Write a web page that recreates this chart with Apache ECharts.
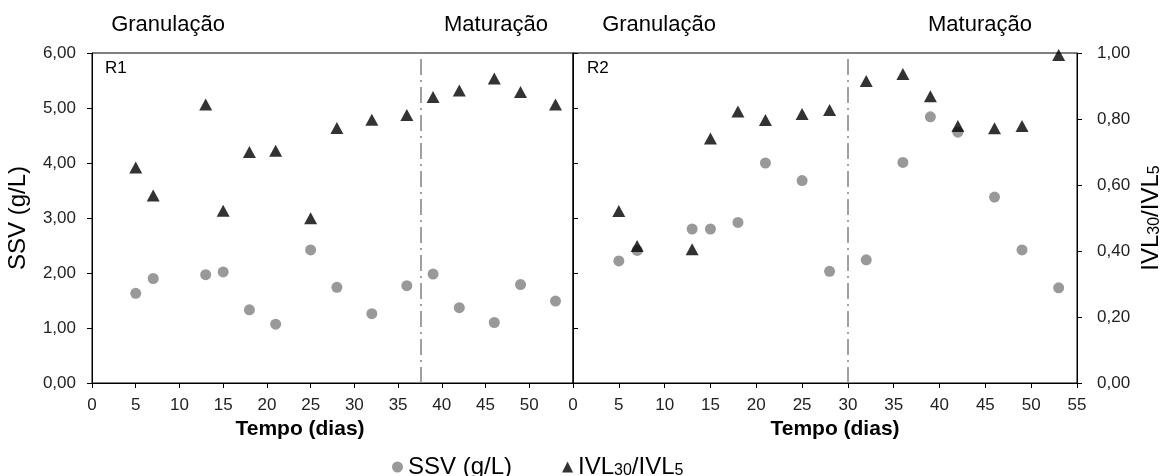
<!DOCTYPE html>
<html>
<head>
<meta charset="utf-8">
<script src="https://cdn.jsdelivr.net/npm/echarts@6/dist/echarts.min.js"></script>
<style>html,body{margin:0;padding:0;background:#fff;}#c{width:1164px;height:476px;}</style>
</head>
<body>
<div id="c"></div>
<script>
// ---- data ----
const daysR1 = [5, 7, 13, 15, 18, 21, 25, 28, 32, 36, 39, 42, 46, 49, 53];
const ssvR1 = [1.63, 1.90, 1.97, 2.02, 1.33, 1.07, 2.42, 1.74, 1.26, 1.77, 1.98, 1.37, 1.10, 1.79, 1.49];
const ivlR1 = [0.653, 0.568, 0.844, 0.522, 0.700, 0.704, 0.499, 0.773, 0.798, 0.812, 0.867, 0.886, 0.923, 0.882, 0.844];
const daysR2 = [5, 7, 13, 15, 18, 21, 25, 28, 32, 36, 39, 42, 46, 49, 53];
const ssvR2 = [2.22, 2.41, 2.80, 2.80, 2.92, 4.00, 3.68, 2.03, 2.24, 4.01, 4.84, 4.56, 3.38, 2.42, 1.73];
const ivlR2 = [0.521, 0.415, 0.405, 0.741, 0.823, 0.797, 0.815, 0.827, 0.915, 0.936, 0.869, 0.779, 0.772, 0.779, 0.994];
const phaseSplit = [37.6, 30];
const phaseLabels = ['Granulação', 'Maturação'];
const panelLabels = ['R1', 'R2'];
const xTitle = 'Tempo (dias)';
const ssvName = 'SSV (g/L)';
const ivlName = 'IVL30/IVL5';

const FONT = '"Liberation Sans", Arial, sans-serif';
const fmt = v => v.toFixed(2).replace('.', ',');
const zip = (xs, ys) => xs.map((x, i) => [x, ys[i]]);

const axisLine = {show: true, lineStyle: {color: '#000', width: 1}};
const tickOut = {show: true, inside: false, length: 5, lineStyle: {color: '#000'}};
const lbl = {fontFamily: FONT, fontSize: 17, color: '#222'};

function xAx(g, showMax) {
  return {gridIndex: g, type: 'value', min: 0, max: 55, interval: 5,
    axisLine, axisTick: tickOut, splitLine: {show: false},
    axisLabel: Object.assign({margin: 14, showMaxLabel: showMax, showMinLabel: true}, lbl)};
}
const dashLine = {color: '#8a8a8a', width: 1.6, type: [16, 5, 2, 5]};
function mark(x) {
  return {silent: true, symbol: 'none', label: {show: false},
    lineStyle: dashLine, data: [{xAxis: x}]};
}

const rich = {
  n: {fontFamily: FONT, fontSize: 24, color: '#000'},
  s: {fontFamily: FONT, fontSize: 16, color: '#000', padding: [8, 0, 0, 0]}
};
const ivlRich = '{n|IVL}{s|30}{n|/IVL}{s|5}';

const option = {
  animation: false,
  backgroundColor: '#fff',
  grid: [
    {left: 92, top: 53, width: 481, height: 330, show: true, borderColor: '#000', borderWidth: 1},
    {left: 573, top: 53, width: 505, height: 330, show: true, borderColor: '#000', borderWidth: 1}
  ],
  xAxis: [xAx(0, false), xAx(1, true)],
  yAxis: [
    {gridIndex: 0, type: 'value', position: 'left', min: 0, max: 6, interval: 1,
      axisLine, axisTick: tickOut, splitLine: {show: false},
      axisLabel: Object.assign({formatter: fmt, margin: 16}, lbl),
      name: ssvName, nameLocation: 'middle', nameRotate: 90, nameGap: 62,
      nameTextStyle: {fontFamily: FONT, fontSize: 24, color: '#000'}},
    {gridIndex: 0, type: 'value', position: 'right', min: 0, max: 1, interval: 0.2, show: false},
    {gridIndex: 1, type: 'value', position: 'left', min: 0, max: 6, interval: 1,
      axisLine, axisTick: {show: true, inside: true, length: 5, lineStyle: {color: '#000'}},
      axisLabel: {show: false}, splitLine: {show: false}},
    {gridIndex: 1, type: 'value', position: 'right', min: 0, max: 1, interval: 0.2,
      axisLine, axisTick: tickOut, splitLine: {show: false},
      axisLabel: Object.assign({formatter: fmt, margin: 20}, lbl),
      name: ivlRich, nameLocation: 'middle', nameRotate: 90, nameGap: 62,
      nameTextStyle: {rich: rich}}
  ],
  legend: {
    left: 387, top: 450, itemGap: 50, itemWidth: 11, itemHeight: 11,
    textStyle: {fontFamily: FONT, fontSize: 24, color: '#000', rich: rich},
    formatter: n => n === ivlName ? ivlRich : '{n|' + n + '}',
    data: [
      {name: ssvName, icon: 'circle', itemStyle: {color: '#808080'}},
      {name: ivlName, icon: 'triangle', itemStyle: {color: '#000'}}
    ]
  },
  series: [
    {name: ssvName, type: 'scatter', xAxisIndex: 0, yAxisIndex: 0, symbol: 'circle', symbolSize: 11,
      itemStyle: {color: '#808080'}, data: zip(daysR1, ssvR1), markLine: mark(phaseSplit[0]), z: 2},
    {name: ivlName, type: 'scatter', xAxisIndex: 0, yAxisIndex: 1, symbol: 'triangle', symbolSize: [13, 12],
      itemStyle: {color: '#000'}, data: zip(daysR1, ivlR1), z: 3},
    {name: ssvName, type: 'scatter', xAxisIndex: 1, yAxisIndex: 2, symbol: 'circle', symbolSize: 11,
      itemStyle: {color: '#808080'}, data: zip(daysR2, ssvR2), markLine: mark(phaseSplit[1]), z: 2},
    {name: ivlName, type: 'scatter', xAxisIndex: 1, yAxisIndex: 3, symbol: 'triangle', symbolSize: [13, 12],
      itemStyle: {color: '#000'}, data: zip(daysR2, ivlR2), z: 3}
  ],
  graphic: [
    {type: 'text', x: 168, y: 25, style: {text: phaseLabels[0], font: '22px ' + FONT, fill: '#000', align: 'center', verticalAlign: 'middle'}},
    {type: 'text', x: 496, y: 25, style: {text: phaseLabels[1], font: '22px ' + FONT, fill: '#000', align: 'center', verticalAlign: 'middle'}},
    {type: 'text', x: 659, y: 25, style: {text: phaseLabels[0], font: '22px ' + FONT, fill: '#000', align: 'center', verticalAlign: 'middle'}},
    {type: 'text', x: 980, y: 25, style: {text: phaseLabels[1], font: '22px ' + FONT, fill: '#000', align: 'center', verticalAlign: 'middle'}},
    {type: 'text', left: 105, top: 60, style: {text: panelLabels[0], font: '17px ' + FONT, fill: '#000'}},
    {type: 'text', left: 587, top: 60, style: {text: panelLabels[1], font: '17px ' + FONT, fill: '#000'}},
    {type: 'text', x: 300, y: 429, style: {text: xTitle, font: 'bold 21px ' + FONT, fill: '#000', align: 'center', verticalAlign: 'middle'}},
    {type: 'text', x: 835, y: 429, style: {text: xTitle, font: 'bold 21px ' + FONT, fill: '#000', align: 'center', verticalAlign: 'middle'}}
  ]
};
const chart = echarts.init(document.getElementById('c'), null, {renderer: 'canvas'});
chart.setOption(option);
</script>
</body>
</html>
